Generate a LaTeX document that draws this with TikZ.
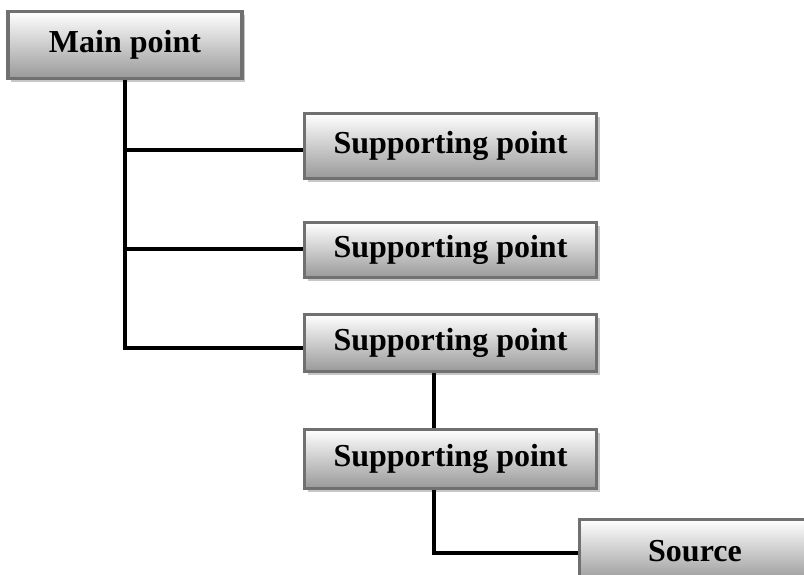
\documentclass[tikz,border=0pt]{standalone}
\usepackage{fontspec}
\setmainfont{Liberation Serif}
\usetikzlibrary{positioning, shadows}
\definecolor{boxline}{RGB}{112,112,112}

\tikzset{
	pointbox/.style={draw=boxline,line width=3.5pt,top color=white,bottom color=gray!80,
		drop shadow={shadow xshift=3pt,shadow yshift=-3pt,fill=black!22,opacity=1},
		inner sep=0pt,font=\fontsize{32}{38}\selectfont\bfseries},
	conn/.style={draw=black,line width=3.5pt}
}

\begin{document}
\begin{tikzpicture}[x=1pt,y=-1pt]
	\useasboundingbox (0,0) rectangle (804,574);
	\clip (0,0) rectangle (804,574);

	\node (main) at (125,45) [pointbox,minimum width=234pt,minimum height=67pt] {Main point};

	\node (sup1) at (450.5,146) [pointbox,minimum width=292pt,minimum height=65pt] {Supporting point};
	\node (sup2) at (450.5,250) [pointbox,minimum width=292pt,minimum height=55pt] {Supporting point};
	\node (sup3) at (450.5,343) [pointbox,minimum width=292pt,minimum height=57pt] {Supporting point};
	\node (sup4) at (450.5,459) [pointbox,minimum width=292pt,minimum height=59pt] {Supporting point};

	\node (source) at (695,551) [pointbox,minimum width=231pt,minimum height=63pt] {Source};

	%branch points on the trunk
	\coordinate (br1) at (125,150);
	\coordinate (br2) at (125,249);
	\coordinate (br3) at (125,348);

	\draw[conn] (main.south) -- (br3) -- (br3 -| sup3.west);
	\path[conn] (br1) edge (br1 -| sup1.west);
	\path[conn] (br2) edge (br2 -| sup2.west);

	\path[conn] ([xshift=-16.5pt]sup3.south) edge ([xshift=-16.5pt]sup4.north);
	\draw[conn] ([xshift=-16.5pt]sup4.south) |- ([yshift=-2pt]source.west);
\end{tikzpicture}
\end{document}
